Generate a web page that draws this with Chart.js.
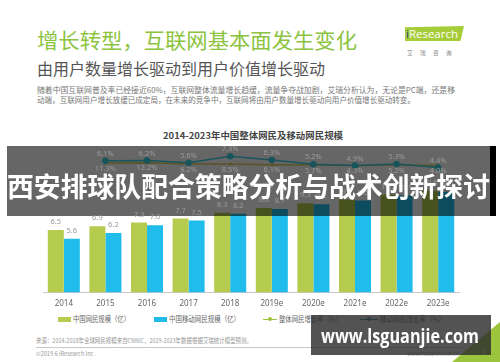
<!DOCTYPE html>
<html>
<head>
<meta charset="utf-8">
<script src="https://cdn.jsdelivr.net/npm/chart.js@4.4.0/dist/chart.umd.min.js"></script>
<style>
  html, body { margin: 0; padding: 0; background: #fff; }
  #page { position: relative; width: 500px; height: 362px; overflow: hidden; background: #fff;
          font-family: "Noto Sans CJK SC", "Noto Sans", sans-serif; }
  .t { position: absolute; white-space: nowrap; line-height: 1; transform-origin: left center; }
  #chart { position: absolute; left: 0; top: 0; z-index: 1; }
  .over { z-index: 3; }
</style>
</head>
<body>
<div id="page">
  <!-- cabeçalho do slide -->
  <div class="t" style="left:37px;top:29px;font-size:21px;color:#8cc43f;" data-w="320">增长转型，互联网基本面发生变化</div>
  <div class="t" style="left:37px;top:60px;font-size:16px;color:#555;" data-w="288">由用户数量增长驱动到用户价值增长驱动</div>
  <div class="t" style="left:37px;top:86px;font-size:7.6px;color:#777;" data-w="418">随着中国互联网普及率已经接近60%，互联网整体流量增长趋缓，流量争夺战加剧，艾瑞分析认为，无论是PC端，还是移</div>
  <div class="t" style="left:37px;top:96px;font-size:7.6px;color:#777;" data-w="378">动端，互联网用户增长放缓已成定局，在未来的竞争中，互联网将由用户数量增长驱动向用户价值增长驱动转变。</div>

  <!-- logo -->
  <div style="position:absolute;left:405px;top:26px;width:59px;height:15px;background:#a6cc3a;clip-path:polygon(0 8%,100% 0,94% 100%,0 100%);"></div>
  <div class="t" style="left:406px;top:28px;font-size:11.5px;color:#fff;font-family:'Open Sans',sans-serif;" data-w="52"><span style="color:#1d3d7a">i</span>Research</div>
  <div class="t" style="left:407px;top:50px;font-size:6px;color:#888;letter-spacing:8px;" data-w="52">艾瑞咨询</div>

  <!-- título do gráfico -->
  <div class="t" style="left:163px;top:130.5px;font-size:9px;font-weight:bold;color:#444;" data-w="180">2014-2023年中国整体网民及移动网民规模</div>

  <!-- legenda -->
  <div style="position:absolute;left:58px;top:316.5px;width:13px;height:5px;background:#b5cc4e;"></div>
  <div class="t" style="left:73px;top:315px;font-size:7.5px;color:#666;" data-w="57">中国网民规模（亿）</div>
  <div style="position:absolute;left:154px;top:316.5px;width:13px;height:5px;background:#20bdec;"></div>
  <div class="t" style="left:169px;top:315px;font-size:7.5px;color:#666;" data-w="71">中国移动网民规模（亿）</div>
  <div style="position:absolute;left:263px;top:318.5px;width:14px;height:1.5px;background:#9cc43c;"></div>
  <div style="position:absolute;left:268px;top:317.2px;width:4px;height:4px;border-radius:50%;background:#9cc43c;"></div>
  <div class="t" style="left:279px;top:315px;font-size:7.5px;color:#666;" data-w="63">整体网民增长率（%）</div>
  <div style="position:absolute;left:360px;top:318.5px;width:18px;height:1.5px;background:#1b7a8a;"></div>
  <div style="position:absolute;left:367px;top:317.2px;width:4px;height:4px;border-radius:50%;background:#1b7a8a;"></div>
  <div class="t" style="left:380px;top:315px;font-size:7.5px;color:#666;" data-w="65">移动网民增长率（%）</div>

  <!-- rodapé -->
  <div class="t" style="left:36px;top:338px;font-size:6.3px;color:#999;" data-w="216">来源：2014-2018年全球网民规模来自CNNIC，2019-2023年数据根据艾瑞统计模型预测。</div>
  <div style="position:absolute;left:36px;top:347px;width:426px;height:1px;background:#c8c8c8;"></div>
  <div class="t" style="left:36px;top:351px;font-size:6px;color:#999;" data-w="59">©2019.6 iResearch Inc.</div>
  <div class="t" style="left:407px;top:351px;font-size:6px;color:#999;" data-w="52">www.iresearch.com.cn</div>
  <div style="position:absolute;left:0;top:0;width:500px;height:362px;background:#9cc43c;clip-path:polygon(452px 362px,500px 322px,500px 362px);"></div>
  <div class="t" style="left:482px;top:349px;font-size:7px;color:#fff;">5</div>

  <canvas id="chart" width="500" height="362"></canvas>

  <!-- faixa e marca d'água por cima -->
  <div class="t over" style="left:7px;top:172px;font-size:27px;font-weight:bold;color:#fff;" data-w="483">西安排球队配合策略分析与战术创新探讨</div>
  <div class="over" style="position:absolute;left:311px;top:315px;width:180px;height:40px;background:rgba(45,45,45,0.82);"></div>
  <div class="t over" style="left:321px;top:327px;font-size:19px;font-weight:bold;color:#fff;font-family:'Open Sans',sans-serif;" data-w="158">www.lsguanjie.com</div>
</div>

<script>
// ========== DADOS ==========
const anos = ["2014", "2015", "2016", "2017", "2018", "2019e", "2020e", "2021e", "2022e", "2023e"];
const netizens = [6.5, 6.9, 7.3, 7.7, 8.3, 8.8, 9.3, 9.7, 10.2, 10.6];       // 中国网民规模（亿）
const mobileNetizens = [5.6, 6.2, 7.0, 7.5, 8.2, 8.7, 9.2, 9.6, 10.1, 10.5]; // 中国移动网民规模（亿）
const totalGrowth = [null, 6.1, 6.2, 5.6, 7.3, 6.3, 5.2, 4.9, 5.3, 4.4];     // 整体网民增长率（%）
const mobileGrowth = [null, 11.3, 12.2, 8.2, 8.5, 6.1, 5.7, 4.3, 5.2, 4.0];  // 移动网民增长率（%）

// faixa escura + rótulos (desenhados depois da faixa, como na imagem)
const faixaERotulos = {
    id: "faixaERotulos",
    afterDatasetsDraw(chart) {
        const ctx = chart.ctx;
        ctx.save();
        ctx.fillStyle = "rgba(0,0,0,0.6)";
        ctx.fillRect(7, 146, 483, 70);
        ctx.fillStyle = "#000";
        ctx.fillRect(490, 146, 6, 70);

        ctx.font = "7.5px 'Noto Sans', sans-serif";
        ctx.textAlign = "center";
        ctx.textBaseline = "middle";
        ctx.fillStyle = "#999";
        chart.data.datasets.forEach((ds, i) => {
            const meta = chart.getDatasetMeta(i);
            meta.data.forEach((el, j) => {
                const v = ds.data[j];
                if (v == null) return;
                if (ds.type === "line") {
                    const dy = ds.labelPos === "above" ? -7 : 5.5;
                    ctx.fillText(v.toFixed(1) + "%", el.x, el.y + dy);
                } else {
                    ctx.fillText(v.toFixed(1), el.x, el.y - 8);
                }
            });
        });
        ctx.restore();
    }
};

const ctx = document.getElementById("chart").getContext("2d");
new Chart(ctx, {
    data: {
        labels: anos,
        datasets: [
            {
                type: "line",
                label: "整体网民增长率（%）",
                data: totalGrowth,
                yAxisID: "yTotal",
                borderColor: "#3ad3e6",
                backgroundColor: "#3ad3e6",
                borderWidth: 1.5,
                pointRadius: 2.5,
                labelPos: "above",
                order: 0
            },
            {
                type: "line",
                label: "移动网民增长率（%）",
                data: mobileGrowth,
                yAxisID: "yMobile",
                borderColor: "#e0d060",
                backgroundColor: "#e0d060",
                borderWidth: 1.5,
                pointRadius: 1,
                labelPos: "below",
                order: 1
            },
            {
                type: "bar",
                label: "中国网民规模（亿）",
                data: netizens,
                backgroundColor: "#b5cc4e",
                categoryPercentage: 0.77,
                barPercentage: 1,
                order: 2
            },
            {
                type: "bar",
                label: "中国移动网民规模（亿）",
                data: mobileNetizens,
                backgroundColor: "#20bdec",
                categoryPercentage: 0.77,
                barPercentage: 1,
                order: 2
            }
        ]
    },
    options: {
        responsive: false,
        animation: false,
        layout: { padding: { left: 43, right: 41, top: 140, bottom: 46 } },
        plugins: { legend: { display: false }, tooltip: { enabled: false } },
        scales: {
            x: {
                grid: { display: false, drawTicks: false },
                border: { display: true, color: "#c8c8c8", width: 1 },
                ticks: { padding: 7, color: "#666", font: { size: 8, family: "'Noto Sans', sans-serif" } }
            },
            y: { display: false, min: 0, max: 15.9 },
            yTotal: { display: false, min: -28, max: 11.5 },
            yMobile: { display: false, min: -362, max: 77.6 }
        }
    },
    plugins: [faixaERotulos]
});

// ajustar largura dos textos ao tamanho da imagem
function ajustarTextos() {
    document.querySelectorAll("[data-w]").forEach(el => {
        el.style.transform = "";
        const w = el.getBoundingClientRect().width;
        if (w > 0) el.style.transform = "scaleX(" + (parseFloat(el.dataset.w) / w) + ")";
    });
}
ajustarTextos();
if (document.fonts && document.fonts.ready) document.fonts.ready.then(ajustarTextos);
</script>
</body>
</html>
